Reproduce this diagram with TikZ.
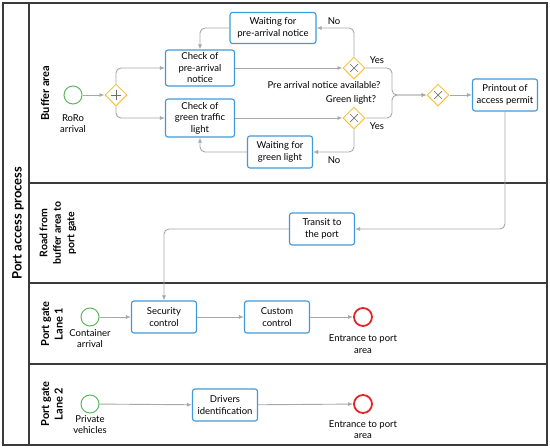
\documentclass[tikz,border=0pt]{standalone}
\usepackage{fontspec}
\setmainfont{Lato}
\usetikzlibrary{arrows.meta,shapes.geometric,positioning}
\definecolor{taskblue}{HTML}{3E9BDB}
\definecolor{gateyellow}{HTML}{F6C343}
\definecolor{startgreen}{HTML}{5CB85C}
\definecolor{endred}{HTML}{E0262B}
\definecolor{flowgrey}{HTML}{A8A8A8}
\definecolor{markgrey}{HTML}{6E6E6E}
\definecolor{laneline}{HTML}{3A3A3A}

\begin{document}
\begin{tikzpicture}[x=1pt,y=-1pt,
  task/.style={draw=taskblue,line width=1.1pt,rounded corners=2.5pt,fill=white,align=center,
    font=\fontsize{9.5}{11.5}\selectfont,inner sep=0pt,minimum width=65pt,minimum height=32pt},
  gate/.style={diamond,draw=gateyellow,line width=1pt,fill=white,minimum size=22pt,inner sep=0pt},
  xorgate/.style={gate,path picture={
    \draw[markgrey,line width=0.7pt]
      ([shift={(-3.8pt,-3.8pt)}]path picture bounding box.center) -- ([shift={(3.8pt,3.8pt)}]path picture bounding box.center)
      ([shift={(-3.8pt,3.8pt)}]path picture bounding box.center) -- ([shift={(3.8pt,-3.8pt)}]path picture bounding box.center);}},
  andgate/.style={gate,path picture={
    \draw[markgrey,line width=0.7pt]
      ([shift={(-5pt,0pt)}]path picture bounding box.center) -- ([shift={(5pt,0pt)}]path picture bounding box.center)
      ([shift={(0pt,-5pt)}]path picture bounding box.center) -- ([shift={(0pt,5pt)}]path picture bounding box.center);}},
  startev/.style={circle,draw=startgreen,line width=1pt,minimum size=18pt,inner sep=0pt},
  endev/.style={circle,draw=endred,line width=1.8pt,minimum size=18pt,inner sep=0pt},
  flow/.style={draw=flowgrey,line width=0.9pt,-{Latex[length=5pt,width=4pt]},rounded corners=5pt},
  lbl/.style={font=\fontsize{9.5}{11.5}\selectfont,align=center,inner sep=0pt},
  lanelbl/.style={font=\fontsize{11}{13.5}\selectfont\bfseries,align=center,rotate=90,inner sep=0pt},
  border/.style={draw=laneline,line width=1.1pt}]
\useasboundingbox (0,0) rectangle (550,448);

% pool and lanes
\draw[border] (3,3) rectangle (547,445);
\draw[border] (29,3) -- (29,445);
\draw[border] (29,183) -- (547,183);
\draw[border] (29,283) -- (547,283);
\draw[border] (29,364) -- (547,364);
\node[lanelbl,font=\fontsize{13}{15}\selectfont\bfseries] (pool) at (18,223) {Port access process};
\node[lanelbl] (lanebuf) at (45,93) {Buffer area};
\node[lanelbl,font=\fontsize{10.5}{13.5}\selectfont\bfseries] (laneroad) at (58,233) {Road from\\buffer area to\\port gate};
\node[lanelbl] (laneone) at (52,324) {Port gate\\Lane 1};
\node[lanelbl] (lanetwo) at (52,404) {Port gate\\Lane 2};

% buffer area
\node[startev] (roro) at (73,95) {};
\node[lbl] (rorolbl) at (73,123.5) {RoRo\\arrival};
\node[andgate] (split) at (116,95) {};
\node[task,minimum width=69pt,minimum height=36pt] (chkpre) at (200,68) {Check of\\pre-arrival\\notice};
\node[task,minimum width=69pt,minimum height=38pt] (chkgreen) at (200,118) {Check of\\green traffic\\light};
\node[task,minimum width=86pt,minimum height=31pt] (waitpre) at (273,28) {Waiting for\\pre-arrival notice};
\node[task] (waitgreen) at (280,152) {Waiting for\\green light};
\node[xorgate] (xorpre) at (354,68) {};
\node[xorgate] (xorgreen) at (354,118) {};
\node[xorgate] (merge) at (438,95) {};
\node[task] (printout) at (505,95) {Printout of\\access permit};
\coordinate (joint) at (392,95);

\node[lbl] (nopre) at (334,21) {No};
\node[lbl] (yespre) at (377,60) {Yes};
\node[lbl] (qpre) at (324,85) {Pre arrival notice available?};
\node[lbl] (qgreen) at (351,100) {Green light?};
\node[lbl] (yesgreen) at (377,126) {Yes};
\node[lbl] (nogreen) at (334,160) {No};

\draw[flow] (roro) -- (split);
\draw[flow] (split.north) |- (chkpre.west);
\draw[flow] (split.south) |- (chkgreen.west);
\draw[flow] (chkpre) -- (xorpre);
\draw[flow] (chkgreen) -- (xorgreen);
\draw[flow] (xorpre.north) |- (waitpre.east);
\draw[flow] (waitpre.west) -| (chkpre.north);
\draw[flow] (xorgreen.south) |- (waitgreen.east);
\draw[flow] (waitgreen.west) -| (chkgreen.south);
\draw[flow] (xorpre.east) -| (joint) -- (merge.west);
\draw[flow] (xorgreen.east) -| (joint) -- (merge.west);
\draw[flow] (merge) -- (printout);

% road
\node[task] (transit) at (322,229) {Transit to\\the port};
\draw[flow] (printout.south) |- (transit.east);

% port gate lane 1
\node[startev] (container) at (90,317) {};
\node[lbl] (containerlbl) at (90,338.5) {Container\\arrival};
\node[task] (security) at (164,317) {Security\\control};
\node[task] (custom) at (277,317) {Custom\\control};
\node[endev] (entryone) at (363,317) {};
\node[lbl] (entryonelbl) at (363,344) {Entrance to port\\area};
\draw[flow] (transit.west) -| (security.north);
\draw[flow] (container) -- (security);
\draw[flow] (security) -- (custom);
\draw[flow] (custom) -- (entryone);

% port gate lane 2
\node[startev] (private) at (90,404) {};
\node[lbl] (privatelbl) at (90,424.5) {Private\\vehicles};
\node[task] (drivers) at (225,405) {Drivers\\identification};
\node[endev] (entrytwo) at (363,404) {};
\node[lbl] (entrytwolbl) at (363,429.5) {Entrance to port\\area};
\draw[flow] (private) -- (drivers);
\draw[flow] (drivers) -- (entrytwo);
\end{tikzpicture}
\end{document}
